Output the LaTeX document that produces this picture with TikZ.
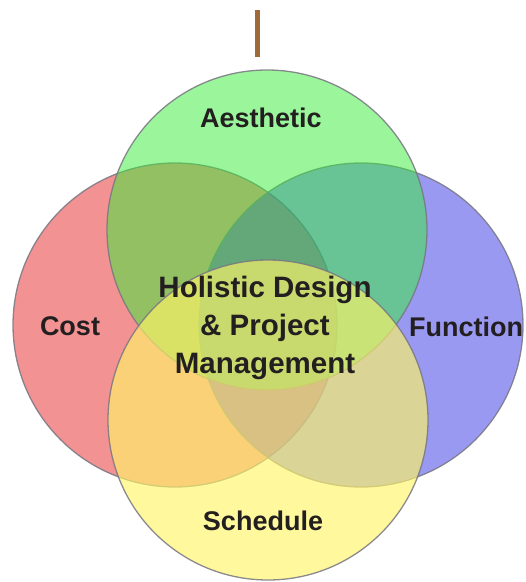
\documentclass[tikz,border=0pt]{standalone}
\usepackage{fontspec}
\setmainfont{Liberation Sans}
\usetikzlibrary{shapes.geometric}
\definecolor{costred}{RGB}{229,38,38}
\definecolor{aesgreen}{RGB}{55,238,55}
\definecolor{funblue}{RGB}{52,52,229}
\definecolor{schyellow}{RGB}{255,244,103}
\definecolor{ringgray}{RGB}{120,118,130}
\definecolor{stembrown}{RGB}{160,105,58}
\definecolor{inkdark}{RGB}{35,31,32}
\tikzstyle{ring} = [circle, inner sep=0pt,
draw=ringgray, line width=1.3pt,
fill opacity=0.5, draw opacity=0.85]
\tikzstyle{ventext} = [text=inkdark, font=\fontsize{27}{32}\selectfont\bfseries]
\tikzstyle{stem} = [line width=5pt, draw=stembrown]

\begin{document}
\begin{tikzpicture}[x=1pt,y=-1pt]
\useasboundingbox (0,0) rectangle (526,582);
%\coordinate (mid) at (268,325);
\node (cost) [ring, fill=costred, minimum size=324pt] at (175,325) {};
\node (function) [ring, fill=funblue, minimum size=324pt] at (361,325) {};
\node (aesthetic) [ring, fill=aesgreen, minimum size=320pt] at (267,230) {};
\node (schedule) [ring, fill=schyellow, fill opacity=0.65, minimum size=320pt] at (268,420) {};
\coordinate (stemtop) at (257,10);
\coordinate (stembot) at (257,57);
\draw [stem] (stemtop) -- (stembot);
\node (aestxt) [ventext] at (261,118) {Aesthetic};
\node (costtxt) [ventext] at (70,326) {Cost};
\node (funtxt) [ventext] at (466,327) {Function};
\node (schtxt) [ventext] at (263,521) {Schedule};
\node (core) [ventext, align=center, font=\fontsize{29.5}{38}\selectfont\bfseries] at (265,328) {Holistic Design\\ \& Project\\ Management};
\end{tikzpicture}
\end{document}
